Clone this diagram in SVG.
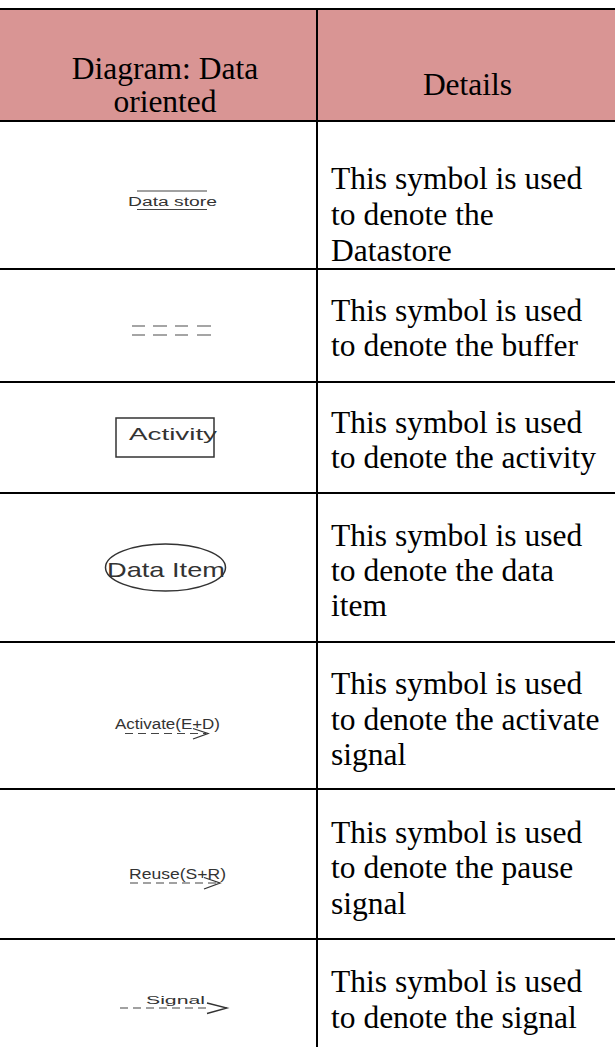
<svg xmlns="http://www.w3.org/2000/svg" width="615" height="1047" viewBox="0 0 615 1047">
  <style>
    .hd { font-family: "Liberation Serif", "Times New Roman", serif; font-size: 31.5px; fill: #000; }
    .tx { font-family: "Liberation Serif", "Times New Roman", serif; font-size: 31.5px; fill: #000; }
    .sym { font-family: "Liberation Sans", Arial, sans-serif; fill: #333; }
    .rule { stroke: #000; stroke-width: 2; fill: none; }
    .ln { stroke: #444; stroke-width: 1.2; fill: none; }
    .buf { stroke: #888; stroke-width: 1.5; fill: none; }
    .box { stroke: #333; stroke-width: 1.5; fill: none; }
    .dash { stroke: #444; stroke-width: 1.2; fill: none; stroke-dasharray: 8 5; }
    .head { stroke: #333; stroke-width: 1.3; fill: none; }
  </style>

  <rect x="0" y="0" width="615" height="1047" fill="#fff"/>

  <!-- header row -->
  <g id="header">
    <rect x="0" y="9" width="615" height="112" fill="#D99594"/>
    <text class="hd" x="165" y="79" text-anchor="middle">Diagram: Data</text>
    <text class="hd" x="165" y="112" text-anchor="middle">oriented</text>
    <text class="hd" x="467.5" y="95" text-anchor="middle">Details</text>
  </g>

  <!-- table rules -->
  <g id="grid">
    <line class="rule" x1="0" y1="9" x2="615" y2="9"/>
    <line class="rule" x1="0" y1="121" x2="615" y2="121"/>
    <line class="rule" x1="0" y1="269" x2="615" y2="269"/>
    <line class="rule" x1="0" y1="382" x2="615" y2="382"/>
    <line class="rule" x1="0" y1="493" x2="615" y2="493"/>
    <line class="rule" x1="0" y1="642" x2="615" y2="642"/>
    <line class="rule" x1="0" y1="789" x2="615" y2="789"/>
    <line class="rule" x1="0" y1="939" x2="615" y2="939"/>
    <line class="rule" x1="317" y1="9" x2="317" y2="1047"/>
  </g>

  <!-- data store -->
  <g id="row-datastore">
    <line class="ln" x1="137" y1="191" x2="207" y2="191"/>
    <text class="sym" x="128" y="206" font-size="12.5" textLength="89" lengthAdjust="spacingAndGlyphs">Data store</text>
    <line class="ln" x1="137" y1="209.5" x2="207" y2="209.5"/>
    <text class="tx" x="331" y="189">This symbol is used</text>
    <text class="tx" x="331" y="225">to denote the</text>
    <text class="tx" x="331" y="261">Datastore</text>
  </g>

  <!-- buffer -->
  <g id="row-buffer">
    <path class="buf" d="M132 326H145M153 326H167M175 326H188M197 326H211M132 335H145M153 335H167M175 335H188M197 335H211"/>
    <text class="tx" x="331" y="321">This symbol is used</text>
    <text class="tx" x="331" y="356">to denote the buffer</text>
  </g>

  <!-- activity -->
  <g id="row-activity">
    <rect class="box" x="116" y="418" width="98" height="39"/>
    <text class="sym" x="129" y="440" font-size="17" textLength="88" lengthAdjust="spacingAndGlyphs">Activity</text>
    <text class="tx" x="331" y="433">This symbol is used</text>
    <text class="tx" x="331" y="468">to denote the activity</text>
  </g>

  <!-- data item -->
  <g id="row-dataitem">
    <ellipse class="box" cx="165.5" cy="567.5" rx="60" ry="23.5"/>
    <text class="sym" x="107" y="577" font-size="21" textLength="118" lengthAdjust="spacingAndGlyphs">Data Item</text>
    <text class="tx" x="331" y="546">This symbol is used</text>
    <text class="tx" x="331" y="581">to denote the data</text>
    <text class="tx" x="331" y="616">item</text>
  </g>

  <!-- activate signal -->
  <g id="row-activate">
    <text class="sym" x="115" y="729" font-size="15.5" textLength="105" lengthAdjust="spacingAndGlyphs">Activate(E+D)</text>
    <line class="dash" x1="125" y1="733.5" x2="206" y2="733.5"/>
    <polyline class="head" points="193,728.5 208,733.5 193,739"/>
    <text class="tx" x="331" y="694">This symbol is used</text>
    <text class="tx" x="331" y="730">to denote the activate</text>
    <text class="tx" x="331" y="765">signal</text>
  </g>

  <!-- pause signal -->
  <g id="row-reuse">
    <text class="sym" x="129" y="879" font-size="15" textLength="97" lengthAdjust="spacingAndGlyphs">Reuse(S+R)</text>
    <line class="dash" x1="130" y1="883" x2="218" y2="883"/>
    <polyline class="head" points="204,877.5 220,883 204,889"/>
    <text class="tx" x="331" y="843">This symbol is used</text>
    <text class="tx" x="331" y="878">to denote the pause</text>
    <text class="tx" x="331" y="914">signal</text>
  </g>

  <!-- signal -->
  <g id="row-signal">
    <text class="sym" x="146" y="1004" font-size="11.5" textLength="59" lengthAdjust="spacingAndGlyphs">Signal</text>
    <line class="dash" x1="120" y1="1008" x2="207" y2="1008" stroke-dasharray="11 8"/>
    <polyline class="head" points="207,1003 227,1008 207,1013.5"/>
    <text class="tx" x="331" y="992">This symbol is used</text>
    <text class="tx" x="331" y="1028">to denote the signal</text>
  </g>
</svg>
